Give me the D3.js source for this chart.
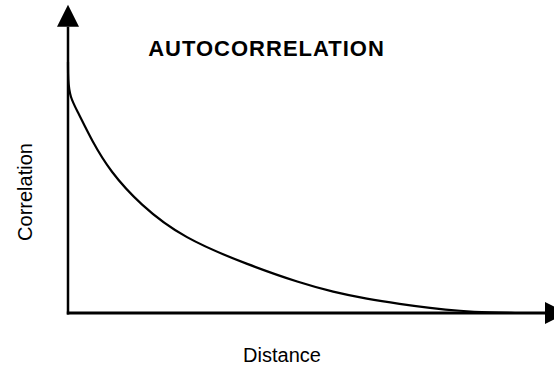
<!DOCTYPE html>
<html>
<head>
<meta charset="utf-8">
<script src="https://cdn.jsdelivr.net/npm/d3@7/dist/d3.min.js"></script>
<style>
  html, body { margin: 0; padding: 0; background: #fff; }
  svg { display: block; }
  text { font-family: "Liberation Sans", Arial, Helvetica, sans-serif; fill: #000; }
</style>
</head>
<body>
<svg id="chart" width="554" height="367"></svg>
<script>
// Autocorrelation decay: correlation as a function of distance
const distance    = [0, 0.0, 0.04, 0.21, 0.503, 0.881, 1.509, 2.411, 3.816, 4.864, 5.556, 6.268, 6.96, 7.589, 8.218, 8.847, 9.371, 9.371];
const correlation = [1.0, 0.93, 0.86, 0.80, 0.685, 0.565, 0.432, 0.298, 0.189, 0.120, 0.084, 0.056, 0.036, 0.020, 0.008, 0.002, 0, 0];

const titleText = "AUTOCORRELATION";
const xLabel = "Distance";
const yLabel = "Correlation";

const svg = d3.select("#chart");

const x = d3.scaleLinear().domain([0, 10]).range([68, 545]);
const y = d3.scaleLinear().domain([0, 1]).range([313, 62]);

// Axes with solid triangular arrowheads
const yTop = y(1.14);   // arrow base on the vertical axis
const xEnd = x(10);     // arrow base on the horizontal axis

svg.append("line")
  .attr("x1", x(0)).attr("y1", y(0) + 1.5)
  .attr("x2", x(0)).attr("y2", yTop)
  .attr("stroke", "#000").attr("stroke-width", 2.5);

svg.append("line")
  .attr("x1", x(0) - 1.2).attr("y1", y(0))
  .attr("x2", xEnd).attr("y2", y(0))
  .attr("stroke", "#000").attr("stroke-width", 3);

svg.append("path")
  .attr("d", `M${x(0)},${yTop - 22} L${x(0) - 11},${yTop} L${x(0) + 11},${yTop} Z`)
  .attr("fill", "#000");

svg.append("path")
  .attr("d", `M${xEnd + 22},${y(0)} L${xEnd},${y(0) - 11} L${xEnd},${y(0) + 11} Z`)
  .attr("fill", "#000");

// Decay curve, smoothed through the sampled values
const pts = distance.map((d, i) => [d, correlation[i]]);
const line = d3.line()
  .x(d => x(d[0]))
  .y(d => y(d[1]))
  .curve(d3.curveBasis);

svg.append("path")
  .datum(pts)
  .attr("d", line)
  .attr("fill", "none")
  .attr("stroke", "#000")
  .attr("stroke-width", 2.2);

// Labels
svg.append("text")
  .attr("x", 266.5).attr("y", 56)
  .attr("text-anchor", "middle")
  .attr("font-size", 22)
  .attr("font-weight", "bold")
  .attr("letter-spacing", "1px")
  .text(titleText);

svg.append("text")
  .attr("x", 282).attr("y", 362)
  .attr("text-anchor", "middle")
  .attr("font-size", 20)
  .text(xLabel);

svg.append("text")
  .attr("transform", "translate(32,192) rotate(-90)")
  .attr("text-anchor", "middle")
  .attr("font-size", 20)
  .text(yLabel);
</script>
</body>
</html>
